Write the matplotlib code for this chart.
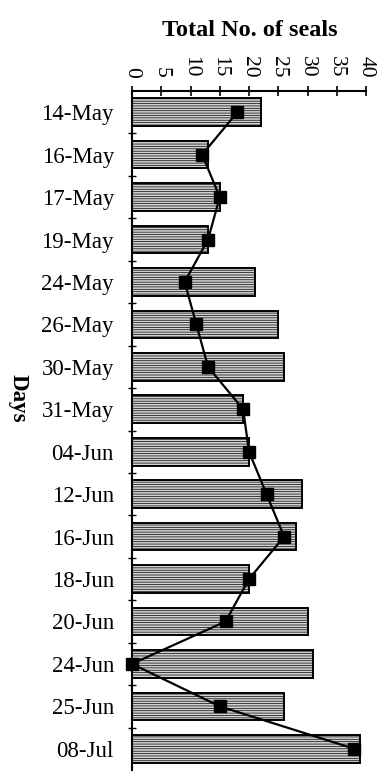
import numpy as np
import matplotlib.pyplot as plt
import matplotlib as mpl

days = ['14-May', '16-May', '17-May', '19-May', '24-May', '26-May', '30-May', '31-May',
        '04-Jun', '12-Jun', '16-Jun', '18-Jun', '20-Jun', '24-Jun', '25-Jun', '08-Jul']
total_seals = [22, 13, 15, 13, 21, 25, 26, 19, 20, 29, 28, 20, 30, 31, 26, 39]
line_seals = [18, 12, 15, 13, 9, 11, 13, 19, 20, 23, 26, 20, 16, 0, 15, 38]
x_ticks = [0, 5, 10, 15, 20, 25, 30, 35, 40]

plt.rcParams['font.family'] = ['Liberation Serif', 'DejaVu Serif']
mpl.rcParams['hatch.color'] = '#8c8c8c'
mpl.rcParams['hatch.linewidth'] = 0.5

fig = plt.figure(figsize=(3.88, 7.82), dpi=100)
ax = fig.add_axes([132 / 388, 12 / 782, 234 / 388, 679 / 782])

y = np.arange(len(days))
ax.barh(y, total_seals, height=0.65, color='#d2d2d2', edgecolor='black',
        linewidth=1.4, hatch='-------')
ax.plot(line_seals, y, color='black', lw=1.6, marker='s', ms=8.5, clip_on=False)

ax.set_xlim(0, 40)
ax.set_ylim(len(days) - 0.5, -0.5)

ax.xaxis.tick_top()
ax.set_xticks(x_ticks)
ax.set_xticklabels([str(t) for t in x_ticks], rotation=-90, fontsize=15.5)
ax.tick_params(axis='x', direction='inout', length=7, width=1.2, pad=6)

ax.set_yticks(y)
ax.set_yticklabels(days, fontsize=16.5)
ax.set_yticks(y[:-1] + 0.5, minor=True)
ax.tick_params(axis='y', which='major', length=0, pad=13)
ax.tick_params(axis='y', which='minor', direction='inout', length=6, width=1.0)

for side in ['right', 'bottom']:
    ax.spines[side].set_visible(False)
for side in ['left', 'top']:
    ax.spines[side].set_linewidth(1.5)

fig.text(250 / 388, 1 - 31 / 782, 'Total No. of seals', ha='center', va='center',
         fontsize=17.5, fontweight='bold')
fig.text(18 / 388, 1 - 398 / 782, 'Days', ha='center', va='center', rotation=-90,
         fontsize=16.5, fontweight='bold')

fig.savefig('out.png', dpi=100)
